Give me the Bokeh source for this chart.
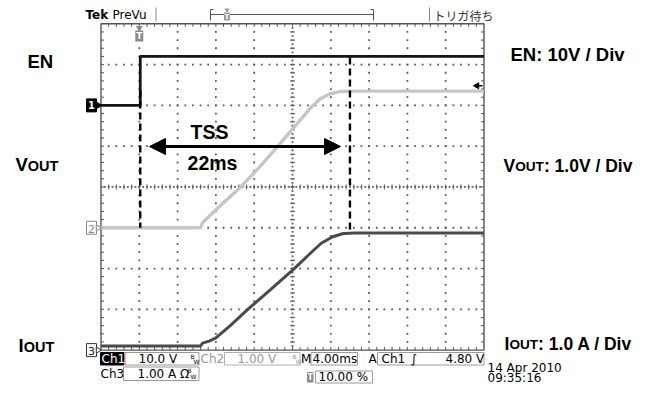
import numpy as np
from bokeh.plotting import figure
from bokeh.models import Range1d, Label, Arrow, NormalHead
from bokeh.embed import file_html
from bokeh.resources import INLINE

time_per_div_ms = 4.0
trigger_pos_pct = 10.0
trigger_level_v = 4.80

# CH1 : EN (10 V/div)
en_time_ms = [-4.0, 0.1, 0.1, 36.0]
en_volt = [0.0, 0.0, 12.0, 12.0]

# CH2 : VOUT (1 V/div)
vout_time_ms = [-4.0, 6.4, 6.6, 8.5, 10.6, 12.6, 14.6, 16.1, 17.9, 18.9, 20.0, 21.0, 22.1, 36.0]
vout_volt = [0.0, 0.0, 0.12, 0.55, 1.0, 1.5, 2.03, 2.45, 2.94, 3.16, 3.29, 3.34, 3.35, 3.35]

# CH3 : IOUT (1 A/div)
iout_time_ms = [-4.0, 6.4, 6.6, 7.3, 8.0, 9.5, 11.3, 13.7, 16.1, 17.9, 19.0, 20.2, 21.3, 22.5, 36.0]
iout_amp = [0.1, 0.1, 0.17, 0.22, 0.30, 0.60, 0.99, 1.48, 1.98, 2.38, 2.62, 2.78, 2.86, 2.87, 2.87]

channel_ids = ["ch1", "ch2", "ch3"]
units_per_div = [10.0, 1.0, 1.0]
ground_div = [2.0, -1.0, -4.0]

tss_start_ms = 0.1
tss_end_ms = 22.0
tss_label = "TSS"
tss_value = "22ms"

# ---------------- layout ----------------
W, H = 635, 384
GL, GR, GT, GB = 100.5, 483.5, 23.3, 349.6       # graticule edges in canvas px
NDX, NDY = 10, 8
T_LEFT = -trigger_pos_pct / 100.0 * NDX * time_per_div_ms
T_RIGHT = T_LEFT + NDX * time_per_div_ms
PXMS = (GR - GL) / (NDX * time_per_div_ms)
PXDIV = (GB - GT) / NDY

x_start = T_LEFT - GL / PXMS
x_end = T_RIGHT + (W - GR) / PXMS
y_end = NDY / 2 + GT / PXDIV
y_start = -NDY / 2 - (H - GB) / PXDIV


def X(px):  # canvas px -> data
    return x_start + px / PXMS


def Y(py):
    return y_end - py / PXDIV


def DX(px):
    return px / PXMS


def DY(px):
    return px / PXDIV


p = figure(width=W, height=H, x_range=Range1d(x_start, x_end), y_range=Range1d(y_start, y_end),
           output_backend="svg", toolbar_location=None, x_axis_location=None, y_axis_location=None,
           min_border=0, min_border_left=0, min_border_right=0, min_border_top=0, min_border_bottom=0)
p.outline_line_color = None
p.background_fill_color = "white"
p.border_fill_color = "white"
p.xgrid.visible = False
p.ygrid.visible = False

for cid, s, g in zip(channel_ids, units_per_div, ground_div):
    p.extra_y_ranges[cid] = Range1d((y_start - g) * s, (y_end - g) * s)

# ---------------- graticule ----------------
grid_col = "#5a5a5a"
sub_t = time_per_div_ms / 5
tx = np.arange(1, NDX * 5) * sub_t + T_LEFT
ty = np.arange(1, NDY * 5) * 0.2 - NDY / 2
dots_x, dots_y = [], []
for j in range(1, NDY):
    yy = j - NDY / 2
    if yy == 0:
        continue
    dots_x += list(tx)
    dots_y += [yy] * len(tx)
for k in range(1, NDX):
    xx = T_LEFT + k * time_per_div_ms
    if abs(xx - (T_LEFT + T_RIGHT) / 2) < 1e-9:
        continue
    dots_x += [xx] * len(ty)
    dots_y += list(ty)
tcx = np.arange(1, NDX * 10) * sub_t / 2 + T_LEFT
tcy = np.arange(1, NDY * 10) * 0.1 - NDY / 2
tmid = (T_LEFT + T_RIGHT) / 2
dots_x += list(tcx) + [tmid] * len(tcy)
dots_y += [0.0] * len(tcx) + list(tcy)
p.scatter(dots_x, dots_y, marker="square", size=1.8, fill_color=grid_col, line_color=None)

p.segment(x0=list(tx), y0=[-DY(2.5)] * len(tx), x1=list(tx), y1=[DY(2.5)] * len(tx),
          line_color="#606060", line_width=1)
p.segment(x0=[tmid - DX(2.5)] * len(ty), y0=list(ty), x1=[tmid + DX(2.5)] * len(ty), y1=list(ty),
          line_color="#606060", line_width=1)
tl = 3.0
p.segment(x0=list(tx), y0=[NDY / 2] * len(tx), x1=list(tx), y1=[NDY / 2 - DY(tl)] * len(tx),
          line_color="#555555", line_width=1)
p.segment(x0=list(tx), y0=[-NDY / 2] * len(tx), x1=list(tx), y1=[-NDY / 2 + DY(tl)] * len(tx),
          line_color="#555555", line_width=1)
p.segment(x0=[T_LEFT] * len(ty), y0=list(ty), x1=[T_LEFT + DX(tl)] * len(ty), y1=list(ty),
          line_color="#555555", line_width=1)
p.segment(x0=[T_RIGHT] * len(ty), y0=list(ty), x1=[T_RIGHT - DX(tl)] * len(ty), y1=list(ty),
          line_color="#555555", line_width=1)
p.quad(left=[T_LEFT], right=[T_RIGHT], top=[NDY / 2], bottom=[-NDY / 2],
       fill_color=None, line_color="#555555", line_width=1.4)

# ---------------- traces ----------------
p.line(vout_time_ms, vout_volt, y_range_name="ch2", line_color="#c6c6c6", line_width=3.4)
p.line(iout_time_ms, iout_amp, y_range_name="ch3", line_color="#4a4a4a", line_width=3.0)
p.line(en_time_ms, en_volt, y_range_name="ch1", line_color="#151515", line_width=2.8)

# ---------------- annotations ----------------
p.segment(x0=[tss_start_ms], y0=[Y(90)], x1=[tss_start_ms], y1=[ground_div[1]],
          line_color="black", line_width=2.4, line_dash="7 4")
p.segment(x0=[tss_end_ms], y0=[Y(57)], x1=[tss_end_ms], y1=[Y(232)],
          line_color="black", line_width=2.4, line_dash="7 4")
p.add_layout(Arrow(start=NormalHead(size=16, fill_color="black", line_color="black"),
                   end=NormalHead(size=16, fill_color="black", line_color="black"),
                   x_start=X(149), y_start=Y(146), x_end=X(340), y_end=Y(146),
                   line_color="black", line_width=3))


def txt(x, y, s, size="12px", color="black", font="DejaVu Sans", style="normal", align="left"):
    p.add_layout(Label(x=X(x), y=Y(y), text=s, text_font=font, text_font_size=size,
                       text_color=color, text_font_style=style, text_align=align,
                       text_baseline="middle"))


def box(x0, x1, y0, y1, fill="white", line="#9a9a9a"):
    p.quad(left=[X(x0)], right=[X(x1)], top=[Y(y0)], bottom=[Y(y1)],
           fill_color=fill, line_color=line, line_width=1)


LF = "Liberation Sans"
txt(209, 131, tss_label, size="19.5px", font=LF, style="bold", align="center")
txt(212, 162, tss_value, size="19.5px", font=LF, style="bold", align="center")

# left labels
txt(27, 61, "EN", size="18.5px", font=LF, style="bold")
txt(15, 164, "V", size="18.5px", font=LF, style="bold")
txt(27.3, 165, "OUT", size="14.5px", font=LF, style="bold")
txt(18, 345, "I", size="18.5px", font=LF, style="bold")
txt(23.2, 346, "OUT", size="14.5px", font=LF, style="bold")
# right labels
txt(510, 54, "EN: 10V / Div", size="18.5px", font=LF, style="bold")
txt(503, 165, "V", size="17.5px", font=LF, style="bold")
txt(514.7, 166, "OUT", size="13.6px", font=LF, style="bold")
txt(543.4, 165, ": 1.0V / Div", size="17.5px", font=LF, style="bold")
txt(504, 343, "I", size="17.5px", font=LF, style="bold")
txt(508.9, 344, "OUT", size="13.6px", font=LF, style="bold")
txt(537.6, 343, ": 1.0 A / Div", size="17.5px", font=LF, style="bold")

# channel ground markers
mk_h = 6.5
p.quad(left=[X(86)], right=[X(96)], top=[ground_div[0] + DY(mk_h)], bottom=[ground_div[0] - DY(mk_h)],
       fill_color="black", line_color="black")
p.scatter([X(97.5)], [ground_div[0]], marker="triangle", angle=-np.pi / 2, size=7,
          fill_color="black", line_color="black")
txt(91, 104.5, "1", size="10px", color="white", style="bold", align="center")
p.quad(left=[X(86)], right=[X(96)], top=[ground_div[1] + DY(mk_h)], bottom=[ground_div[1] - DY(mk_h)],
       fill_color="white", line_color="#8a8a8a")
p.scatter([X(97.5)], [ground_div[1]], marker="triangle", angle=-np.pi / 2, size=6,
          fill_color="white", line_color="#8a8a8a")
txt(91, 228, "2", size="11px", color="#8a8a8a", align="center")
p.quad(left=[X(86)], right=[X(96)], top=[ground_div[2] + DY(mk_h)], bottom=[ground_div[2] - DY(mk_h)],
       fill_color="white", line_color="#333333")
p.scatter([X(97.5)], [ground_div[2]], marker="triangle", angle=-np.pi / 2, size=6,
          fill_color="white", line_color="#333333")
txt(91, 350, "3", size="11px", color="#222222", align="center")

# trigger level arrow (right edge)
lvl = ground_div[0] + trigger_level_v / units_per_div[0]
p.segment(x0=[X(476)], y0=[lvl], x1=[X(482)], y1=[lvl], line_color="black", line_width=1.5)
p.scatter([X(476.5)], [lvl], marker="triangle", angle=np.pi / 2, size=6,
          fill_color="black", line_color="black")

# trigger position marker (top)
p.scatter([0.0], [Y(27.5)], marker="inverted_triangle", size=7, fill_color="#8a8a8a", line_color=None)
p.quad(left=[-DX(4)], right=[DX(4)], top=[Y(30)], bottom=[Y(41)], fill_color="#8a8a8a", line_color=None)
txt(138.8, 35.5, "T", size="9px", color="white", style="bold", align="center")

# top status line
txt(85, 14.5, "Tek", size="12px", style="bold")
txt(112, 14.5, "PreVu", size="12px")
p.segment(x0=[X(155.5), X(429)], y0=[Y(7), Y(7)], x1=[X(155.5), X(429)], y1=[Y(21), Y(21)],
          line_color="#888888", line_width=1)
p.segment(x0=[X(210), X(373), X(210)], y0=[Y(9), Y(9), Y(14)], x1=[X(210), X(373), X(373)],
          y1=[Y(20), Y(20), Y(14)], line_color="#555555", line_width=1)
p.segment(x0=[X(210), X(373)], y0=[Y(9), Y(9)], x1=[X(213), X(370)], y1=[Y(9), Y(9)],
          line_color="#555555", line_width=1)
p.scatter([X(226.5)], [Y(9.5)], marker="inverted_triangle", size=5, fill_color="#9a9a9a", line_color=None)
p.quad(left=[X(223.5)], right=[X(229.5)], top=[Y(12)], bottom=[Y(20)], fill_color="#9a9a9a", line_color=None)
txt(226.5, 16, "T", size="7px", color="white", style="bold", align="center")
txt(433, 14.5, "トリガ待ち", size="12px", color="#333333", font="Noto Sans CJK JP")

# bottom status lines
box(100, 123.5, 352, 364.5, fill="black", line="black")
txt(101, 358.5, "Ch1", size="12px", color="white")
box(124.5, 198.5, 352, 364.5)
txt(138, 358.5, "10.0 V", size="12px")
txt(190, 355.5, "B", size="6px")
txt(193, 361, "W", size="6px")
txt(200, 358.5, "Ch2", size="12px", color="#999999")
box(224, 299.5, 352, 364.5, line="#b0b0b0")
txt(237, 358.5, "1.00 V", size="12px", color="#999999")
txt(292, 355.5, "B", size="6px", color="#999999")
txt(295, 361, "W", size="6px", color="#999999")
txt(300.5, 358.5, "M", size="12px")
box(310.5, 357, 352, 364.5)
txt(312, 358.5, "4.00ms", size="12px")
txt(368, 358.5, "A", size="12px")
box(377, 483.5, 352, 364.5)
txt(381, 358.5, "Ch1", size="12px")
txt(410, 358.5, "\u222b", size="12px", style="italic")
txt(445, 358.5, "4.80 V", size="12px")

txt(100, 373, "Ch3", size="12px")
box(123, 198.5, 366.5, 380)
txt(137, 373, "1.00 A \u03a9", size="12px")
txt(187, 370, "B", size="6px")
txt(190, 375.5, "W", size="6px")

p.quad(left=[X(306.5)], right=[X(313)], top=[Y(371.5)], bottom=[Y(382)], fill_color="#8a8a8a", line_color=None)
txt(309.7, 377, "T", size="8px", color="white", style="bold", align="center")
box(315, 372, 370.5, 382.5)
txt(318, 376.5, "10.00 %", size="12px")

txt(487, 367, "14 Apr  2010", size="12px")
txt(487, 377, "09:35:16", size="12px")

open("out.html", "w").write(file_html(p, INLINE))
